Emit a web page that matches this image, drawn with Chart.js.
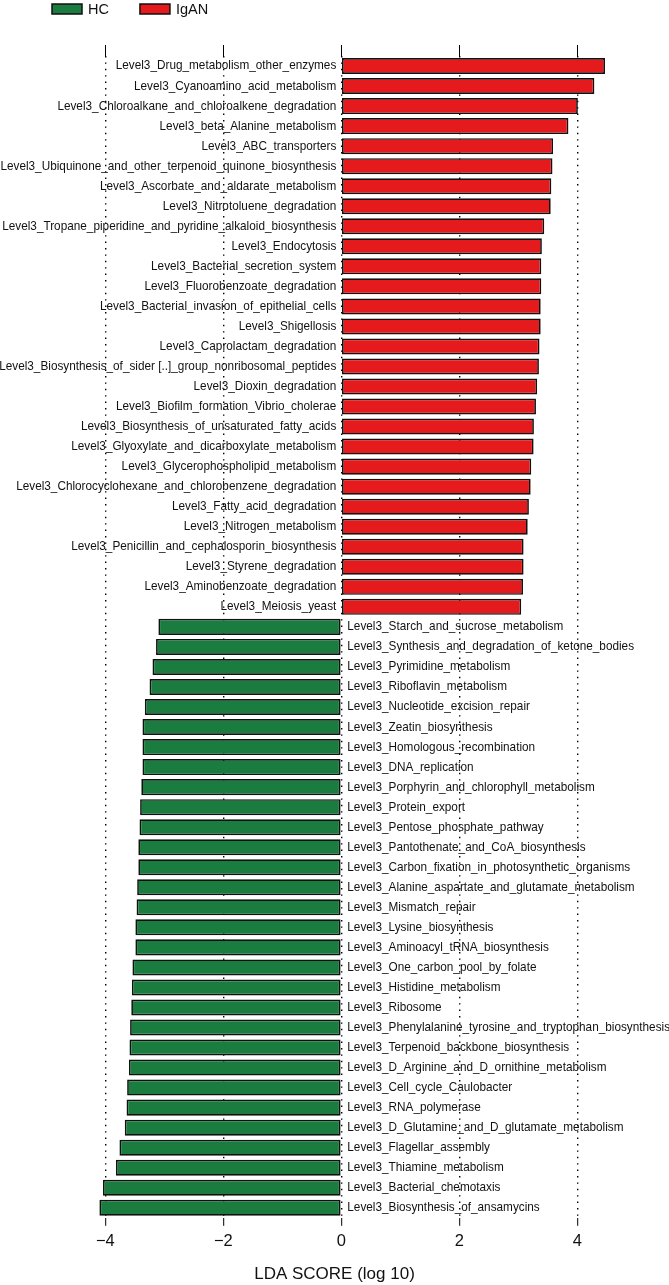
<!DOCTYPE html>
<html>
<head>
<meta charset="utf-8">
<script src="https://cdn.jsdelivr.net/npm/chart.js@4/dist/chart.umd.min.js"></script>
<style>
  html, body { margin: 0; padding: 0; background: #fff; }
  #wrap { position: relative; width: 669px; height: 1285px; }
</style>
</head>
<body>
<div id="wrap"><canvas id="ldaChart"></canvas></div>
<script>
// LEfSe LDA plot - IgAN vs HC

const IGAN_NAMES = [
    'Level3_Drug_metabolism_other_enzymes',
    'Level3_Cyanoamino_acid_metabolism',
    'Level3_Chloroalkane_and_chloroalkene_degradation',
    'Level3_beta_Alanine_metabolism',
    'Level3_ABC_transporters',
    'Level3_Ubiquinone_and_other_terpenoid_quinone_biosynthesis',
    'Level3_Ascorbate_and_aldarate_metabolism',
    'Level3_Nitrotoluene_degradation',
    'Level3_Tropane_piperidine_and_pyridine_alkaloid_biosynthesis',
    'Level3_Endocytosis',
    'Level3_Bacterial_secretion_system',
    'Level3_Fluorobenzoate_degradation',
    'Level3_Bacterial_invasion_of_epithelial_cells',
    'Level3_Shigellosis',
    'Level3_Caprolactam_degradation',
    'Level3_Biosynthesis_of_sider [..]_group_nonribosomal_peptides',
    'Level3_Dioxin_degradation',
    'Level3_Biofilm_formation_Vibrio_cholerae',
    'Level3_Biosynthesis_of_unsaturated_fatty_acids',
    'Level3_Glyoxylate_and_dicarboxylate_metabolism',
    'Level3_Glycerophospholipid_metabolism',
    'Level3_Chlorocyclohexane_and_chlorobenzene_degradation',
    'Level3_Fatty_acid_degradation',
    'Level3_Nitrogen_metabolism',
    'Level3_Penicillin_and_cephalosporin_biosynthesis',
    'Level3_Styrene_degradation',
    'Level3_Aminobenzoate_degradation',
    'Level3_Meiosis_yeast'
];
const IGAN_LDA = [
    4.47, 4.29, 4.01, 3.85, 3.59, 3.58, 3.56, 3.55, 3.44, 3.40,
    3.39, 3.39, 3.38, 3.38, 3.36, 3.35, 3.32, 3.30, 3.265, 3.26,
    3.22, 3.21, 3.18, 3.16, 3.09, 3.09, 3.08, 3.05
];

const HC_NAMES = [
    'Level3_Starch_and_sucrose_metabolism',
    'Level3_Synthesis_and_degradation_of_ketone_bodies',
    'Level3_Pyrimidine_metabolism',
    'Level3_Riboflavin_metabolism',
    'Level3_Nucleotide_excision_repair',
    'Level3_Zeatin_biosynthesis',
    'Level3_Homologous_recombination',
    'Level3_DNA_replication',
    'Level3_Porphyrin_and_chlorophyll_metabolism',
    'Level3_Protein_export',
    'Level3_Pentose_phosphate_pathway',
    'Level3_Pantothenate_and_CoA_biosynthesis',
    'Level3_Carbon_fixation_in_photosynthetic_organisms',
    'Level3_Alanine_aspartate_and_glutamate_metabolism',
    'Level3_Mismatch_repair',
    'Level3_Lysine_biosynthesis',
    'Level3_Aminoacyl_tRNA_biosynthesis',
    'Level3_One_carbon_pool_by_folate',
    'Level3_Histidine_metabolism',
    'Level3_Ribosome',
    'Level3_Phenylalanine_tyrosine_and_tryptophan_biosynthesis',
    'Level3_Terpenoid_backbone_biosynthesis',
    'Level3_D_Arginine_and_D_ornithine_metabolism',
    'Level3_Cell_cycle_Caulobacter',
    'Level3_RNA_polymerase',
    'Level3_D_Glutamine_and_D_glutamate_metabolism',
    'Level3_Flagellar_assembly',
    'Level3_Thiamine_metabolism',
    'Level3_Bacterial_chemotaxis',
    'Level3_Biosynthesis_of_ansamycins'
];
const HC_LDA = [
    -3.10, -3.14, -3.20, -3.25, -3.33, -3.37, -3.37, -3.37, -3.39, -3.41,
    -3.42, -3.44, -3.44, -3.46, -3.47, -3.49, -3.49, -3.54, -3.55, -3.56,
    -3.58, -3.59, -3.60, -3.63, -3.64, -3.67, -3.76, -3.82, -4.04, -4.10
];

const X_TICKS = [-4, -2, 0, 2, 4];
const X_TITLE = 'LDA SCORE (log 10)';

const GREEN = '#1A7C3E';
const RED = '#E41A1C';
const EDGE = '#111111';
const FONT = '"Liberation Sans", Arial, Helvetica, sans-serif';
const SQUEEZE = 0.935;   // the original text is slightly narrow

const categories = IGAN_NAMES.concat(HC_NAMES);
const nIgan = IGAN_NAMES.length;

// one column of values per group, empty where the row belongs to the other group
const hcData = categories.map((c, i) => i < nIgan ? null : HC_LDA[i - nIgan]);
const iganData = categories.map((c, i) => i < nIgan ? IGAN_LDA[i] : null);

const setTicks = scale => { scale.ticks = X_TICKS.map(v => ({ value: v })); };

// --- row labels : next to zero, on the side opposite to the bar ---
const rowLabels = {
    id: 'rowLabels',
    afterDatasetsDraw(chart) {
        const ctx = chart.ctx;
        const x = chart.scales.x;
        const y = chart.scales.y;
        const zero = x.getPixelForValue(0);
        ctx.save();
        ctx.scale(SQUEEZE, 1);
        ctx.font = '12.6px ' + FONT;
        ctx.fillStyle = '#111';
        ctx.textBaseline = 'middle';
        categories.forEach((name, i) => {
            const py = y.getPixelForValue(i);
            if (i < nIgan) {
                ctx.textAlign = 'right';
                ctx.fillText(name, (zero - 5) / SQUEEZE, py);
            } else {
                ctx.textAlign = 'left';
                ctx.fillText(name, (zero + 6) / SQUEEZE, py);
            }
        });
        ctx.restore();
    }
};

// --- legend in the top left corner ---
const cornerLegend = {
    id: 'cornerLegend',
    afterDraw(chart) {
        const ctx = chart.ctx;
        ctx.save();
        ctx.font = '14.5px ' + FONT;
        ctx.textBaseline = 'middle';
        ctx.textAlign = 'left';
        let lx = 52;
        chart.data.datasets.forEach(ds => {
            ctx.fillStyle = ds.backgroundColor;
            ctx.fillRect(lx, 4, 30, 10);
            ctx.lineWidth = 1.5;
            ctx.strokeStyle = EDGE;
            ctx.strokeRect(lx, 4, 30, 10);
            ctx.fillStyle = '#111';
            ctx.fillText(ds.label, lx + 36, 10);
            lx += 36 + ctx.measureText(ds.label).width + 31;
        });
        ctx.restore();
    }
};

const canvas = document.getElementById('ldaChart');
new Chart(canvas.getContext('2d'), {
    type: 'bar',
    data: {
        labels: categories,
        datasets: [
            { label: 'HC', data: hcData, backgroundColor: GREEN },
            { label: 'IgAN', data: iganData, backgroundColor: RED }
        ]
    },
    options: {
        indexAxis: 'y',
        responsive: true,
        maintainAspectRatio: false,
        animation: false,
        layout: { padding: { top: 45, left: 0, right: 0, bottom: 0 } },
        datasets: {
            bar: {
                grouped: false,
                categoryPercentage: 1,
                barPercentage: 0.8,
                borderColor: EDGE,
                borderWidth: 1.7,
                borderSkipped: false
            }
        },
        scales: {
            y: { type: 'category', display: false },
            x: {
                type: 'linear',
                position: 'bottom',
                min: -5.785,
                max: 5.555,
                z: 1,
                afterBuildTicks: setTicks,
                border: { display: false, dash: [1.4, 5] },
                grid: {
                    color: '#000',
                    lineWidth: 1.4,
                    tickLength: 8,
                    tickBorderDash: [],
                    tickColor: '#000',
                    tickWidth: 1
                },
                ticks: {
                    padding: 6,
                    color: '#111',
                    font: { family: FONT, size: 16.5 },
                    callback: v => v < 0 ? '\u2212' + Math.abs(v) : String(v)
                },
                title: {
                    display: true,
                    text: X_TITLE,
                    color: '#111',
                    font: { family: FONT, size: 17 },
                    padding: { top: 7, bottom: 0 }
                }
            },
            xTop: {
                type: 'linear',
                position: 'top',
                axis: 'x',
                min: -5.785,
                max: 5.555,
                afterBuildTicks: setTicks,
                border: { display: false },
                grid: {
                    drawOnChartArea: false,
                    tickLength: 11,
                    tickColor: '#000',
                    tickWidth: 1
                },
                ticks: { display: false }
            }
        },
        plugins: {
            legend: { display: false },
            tooltip: { enabled: false }
        }
    },
    plugins: [rowLabels, cornerLegend]
});
</script>
</body>
</html>
